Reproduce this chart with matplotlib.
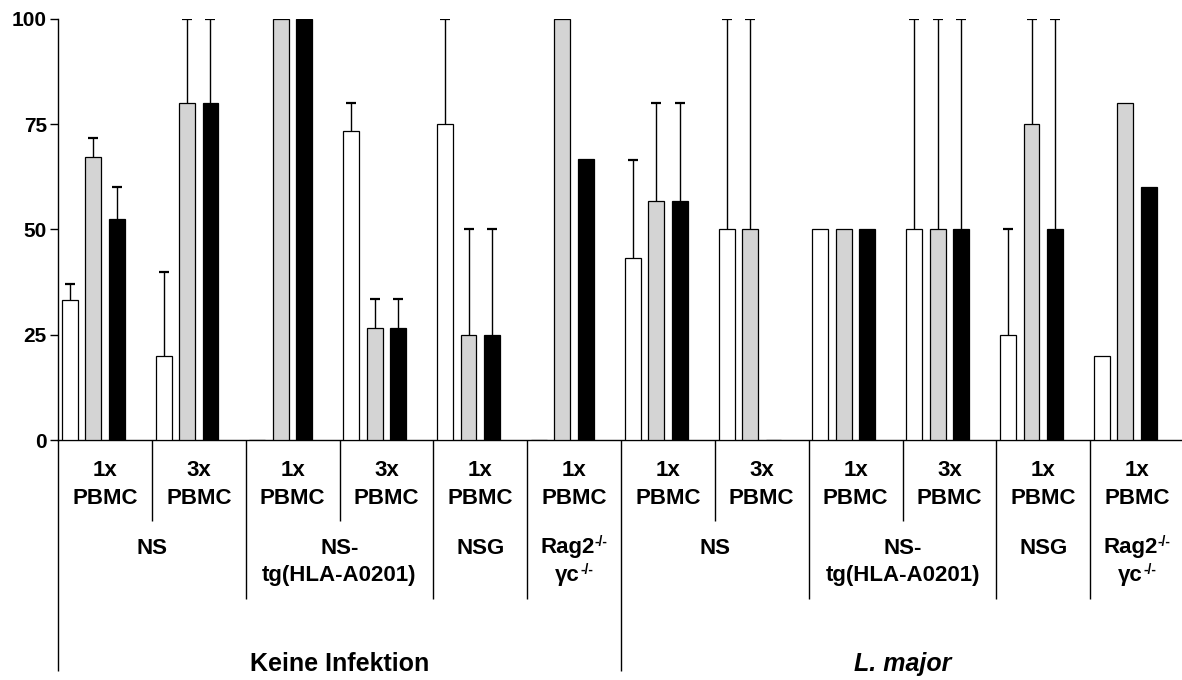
import numpy as np
import matplotlib.pyplot as plt
from matplotlib.transforms import blended_transform_factory, offset_copy

plt.rcParams['font.family'] = ['Liberation Sans', 'DejaVu Sans']
plt.rcParams['font.weight'] = 'bold'

# Mittelwerte (%) und obere Fehlerbalken je Gruppe (nan = kein Fehlerbalken)
white = [33.3, 20.0, 0.0, 73.3, 75.0, 0.0, 43.3, 50.0, 50.0, 50.0, 25.0, 20.0]
white_err = [3.7, 20.0, np.nan, 6.7, 25.0, np.nan, 23.3, 50.0, np.nan, 50.0, 25.0, np.nan]
gray = [67.2, 80.0, 100.0, 26.7, 25.0, 100.0, 56.7, 50.0, 50.0, 50.0, 75.0, 80.0]
gray_err = [4.5, 20.0, np.nan, 6.7, 25.0, np.nan, 23.3, 50.0, np.nan, 50.0, 25.0, np.nan]
black = [52.4, 80.0, 100.0, 26.7, 25.0, 66.7, 56.7, 0.0, 50.0, 50.0, 50.0, 60.0]
black_err = [7.6, 20.0, np.nan, 6.7, 25.0, np.nan, 23.3, np.nan, np.nan, 50.0, 50.0, np.nan]

# Beschriftungen der drei Ebenen unter der x-Achse
doses = ['1x', '3x', '1x', '3x', '1x', '1x', '1x', '3x', '1x', '3x', '1x', '1x']
strains = ['NS', 'NS-\ntg(HLA-A0201)', 'NSG']
strain_groups = [[0, 1], [2, 3], [4]]
rag_lines = ['Rag2', 'γc']
rag_sup = '-/-'
infections = ['Keine Infektion', 'L. major']
yticks = [0, 25, 50, 75, 100]

fig = plt.figure(figsize=(11.82, 6.8), dpi=100)
# Achse in Pixeln: y=0 bei 440 px, y=100 bei 19 px, links bei 58 px
ax = fig.add_axes([58 / 1182, 240 / 680, 1126 / 1182, 421 / 680])

n = len(white)
base = np.arange(n) * 4
series = [(white, white_err, 'white'),
          (gray, gray_err, '#d4d4d4'),
          (black, black_err, 'black')]
for k, (vals, errs, col) in enumerate(series):
    x = base + 0.5 + k
    vals = np.array(vals)
    errs = np.array(errs)
    ax.bar(x, vals, width=0.68, color=col, edgecolor='black', linewidth=0.9, zorder=3)
    m = ~np.isnan(errs)
    eb = ax.errorbar(x[m], vals[m], yerr=[np.zeros(m.sum()), errs[m]], fmt='none',
                     ecolor='black', elinewidth=1.0, capsize=3.5, capthick=1.6, zorder=2)
    # nur obere Kappe zeigen
    eb[1][0].set_visible(False)

ax.set_xlim(0, 48)
ax.set_ylim(0, 100)
ax.spines['top'].set_visible(False)
ax.spines['right'].set_visible(False)
ax.spines['left'].set_linewidth(1.0)
ax.spines['bottom'].set_linewidth(1.0)
ax.set_xticks([])
ax.set_yticks(yticks, labels=[str(t) for t in yticks], fontsize=15, fontweight='bold')
ax.tick_params(axis='y', direction='out', length=6, width=1.0, pad=2)

trans = blended_transform_factory(ax.transData, ax.transAxes)
renderer = fig.canvas.get_renderer()


def ya(py):
    # Pixelzeile -> Achsenkoordinate
    return (440 - py) / 421


def vline(x, py_end):
    ax.plot([x, x], [0, ya(py_end)], transform=trans, clip_on=False,
            color='black', lw=1.0, solid_capstyle='butt')


def sup_label(cx, py, main, sup):
    # Text mit hochgestelltem Zusatz, gemeinsam zentriert
    t = ax.text(cx, ya(py), main, transform=trans, ha='left', va='center',
                fontsize=16, fontweight='bold')
    s = ax.text(cx, ya(py), sup, transform=trans, ha='left', va='center',
                fontsize=10, fontweight='bold')
    w_main = t.get_window_extent(renderer).width
    w_sup = s.get_window_extent(renderer).width
    shift = -(w_main + w_sup) / 2
    t.set_transform(offset_copy(trans, fig=fig, x=shift, y=0, units='dots'))
    s.set_transform(offset_copy(trans, fig=fig, x=shift + w_main, y=6, units='dots'))


for half in range(2):
    off = half * 24
    # Ebene 1: Dosis
    for g in range(6):
        i = half * 6 + g
        cx = off + g * 4 + 2
        ax.text(cx, ya(470), doses[i], transform=trans, ha='center', va='center',
                fontsize=16, fontweight='bold')
        ax.text(cx, ya(498), 'PBMC', transform=trans, ha='center', va='center',
                fontsize=16, fontweight='bold')
    # Ebene 2: Mausstamm
    for s, grp in zip(strains, strain_groups):
        cx = off + (grp[0] * 4 + grp[-1] * 4 + 4) / 2
        ax.text(cx, ya(538), s, transform=trans, ha='center', va='top',
                fontsize=16, fontweight='bold', linespacing=1.35)
    sup_label(off + 22, 548, rag_lines[0], rag_sup)
    sup_label(off + 22, 576, rag_lines[1], rag_sup)
    # Trennlinien
    vline(off + 4, 521)
    vline(off + 12, 521)
    vline(off + 8, 599)
    vline(off + 16, 599)
    vline(off + 20, 599)
    vline(off, 671)
    # Ebene 3: Infektion
    ax.text(off + 12, ya(664), infections[half], transform=trans, ha='center', va='center',
            fontsize=18, fontweight='bold', fontstyle='italic' if half else 'normal')

fig.savefig('out.png', dpi=100)
